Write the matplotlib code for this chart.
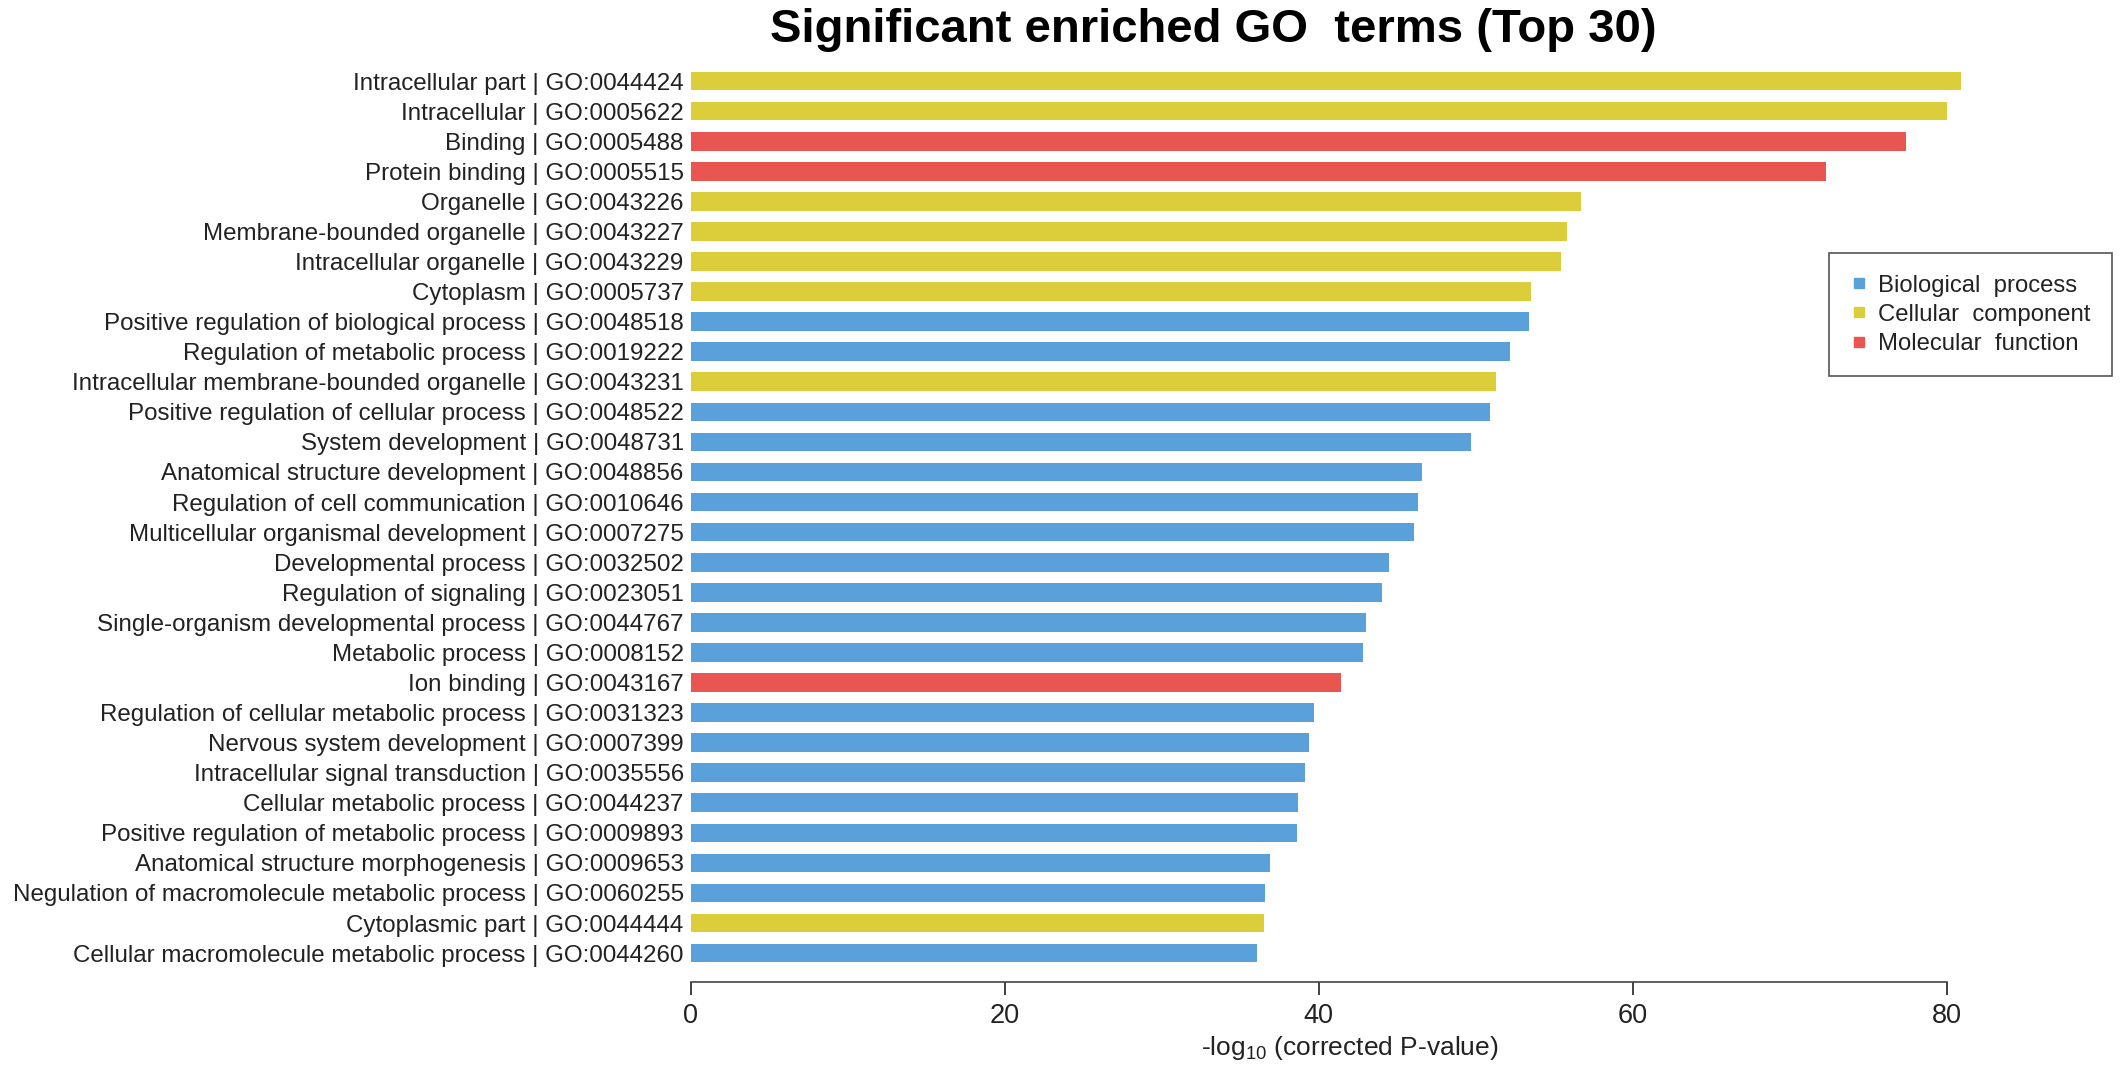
import matplotlib
matplotlib.use('Agg')
import matplotlib.pyplot as plt
from matplotlib.lines import Line2D

plt.rcParams['font.family'] = ['Liberation Sans', 'DejaVu Sans']
plt.rcParams['mathtext.fontset'] = 'custom'
plt.rcParams['mathtext.rm'] = 'Liberation Sans'
plt.rcParams['mathtext.default'] = 'regular'

# GO terms, top to bottom
terms = [
    "Intracellular part | GO:0044424",
    "Intracellular | GO:0005622",
    "Binding | GO:0005488",
    "Protein binding | GO:0005515",
    "Organelle | GO:0043226",
    "Membrane-bounded organelle | GO:0043227",
    "Intracellular organelle | GO:0043229",
    "Cytoplasm | GO:0005737",
    "Positive regulation of biological process | GO:0048518",
    "Regulation of metabolic process | GO:0019222",
    "Intracellular membrane-bounded organelle | GO:0043231",
    "Positive regulation of cellular process | GO:0048522",
    "System development | GO:0048731",
    "Anatomical structure development | GO:0048856",
    "Regulation of cell communication | GO:0010646",
    "Multicellular organismal development | GO:0007275",
    "Developmental process | GO:0032502",
    "Regulation of signaling | GO:0023051",
    "Single-organism developmental process | GO:0044767",
    "Metabolic process | GO:0008152",
    "Ion binding | GO:0043167",
    "Regulation of cellular metabolic process | GO:0031323",
    "Nervous system development | GO:0007399",
    "Intracellular signal transduction | GO:0035556",
    "Cellular metabolic process | GO:0044237",
    "Positive regulation of metabolic process | GO:0009893",
    "Anatomical structure morphogenesis | GO:0009653",
    "Negulation of macromolecule metabolic process | GO:0060255",
    "Cytoplasmic part | GO:0044444",
    "Cellular macromolecule metabolic process | GO:0044260",
]
values = [80.9, 80.0, 77.4, 72.3, 56.7, 55.8, 55.4, 53.5, 53.4, 52.2,
          51.3, 50.9, 49.7, 46.6, 46.3, 46.1, 44.5, 44.0, 43.0, 42.8,
          41.4, 39.7, 39.4, 39.1, 38.7, 38.6, 36.9, 36.6, 36.5, 36.1]
# BP = biological process, CC = cellular component, MF = molecular function
category = ['CC', 'CC', 'MF', 'MF', 'CC', 'CC', 'CC', 'CC', 'BP', 'BP',
            'CC', 'BP', 'BP', 'BP', 'BP', 'BP', 'BP', 'BP', 'BP', 'BP',
            'MF', 'BP', 'BP', 'BP', 'BP', 'BP', 'BP', 'BP', 'CC', 'BP']

cat_names = {'BP': 'Biological  process', 'CC': 'Cellular  component', 'MF': 'Molecular  function'}
cat_colors = {'BP': '#5AA0DB', 'CC': '#DCCE3A', 'MF': '#E95550'}
text_col = '#222222'

fig = plt.figure(figsize=(21.25, 10.77), dpi=100)
ax = fig.add_axes([0.325, 0.0882, 0.6207, 0.8533])

ypos = list(range(len(terms)))
ax.barh(ypos, values, height=0.62, color=[cat_colors[c] for c in category])

ax.set_ylim(29.96, -0.6)
ax.set_xlim(0, 84)
ax.set_yticks(ypos)
ax.set_yticklabels(terms, fontsize=17.4, color=text_col)
ax.tick_params(axis='y', length=0, pad=5)
ax.set_xticks([0, 20, 40, 60, 80])
ax.tick_params(axis='x', labelsize=19.5, colors=text_col, length=9, width=1.2, pad=6)

for s in ['top', 'right', 'left']:
    ax.spines[s].set_visible(False)
ax.spines['bottom'].set_bounds(0, 80)
ax.spines['bottom'].set_color('#444444')
ax.spines['bottom'].set_linewidth(1.2)

ax.set_xlabel(r'-log$_{10}$ (corrected P-value)', fontsize=19, color=text_col, labelpad=4)

fig.text(0.571, 0.972, 'Significant enriched GO  terms (Top 30)', fontsize=34,
         fontweight='bold', ha='center', va='center', color='black')

handles = [Line2D([], [], marker='s', linestyle='none', markersize=7,
                  color=cat_colors[k]) for k in ['BP', 'CC', 'MF']]
leg = fig.legend(handles, [cat_names[k] for k in ['BP', 'CC', 'MF']],
                 loc='upper right', bbox_to_anchor=(0.9938, 0.765),
                 fontsize=17.2, frameon=True, fancybox=False, framealpha=1,
                 edgecolor='#555555', handletextpad=0.45, borderpad=0.9,
                 labelspacing=0.3, handlelength=0.7, borderaxespad=0)
leg.get_frame().set_linewidth(1.2)
for t in leg.get_texts():
    t.set_color(text_col)

fig.savefig('out.png', dpi=100, facecolor='white')
